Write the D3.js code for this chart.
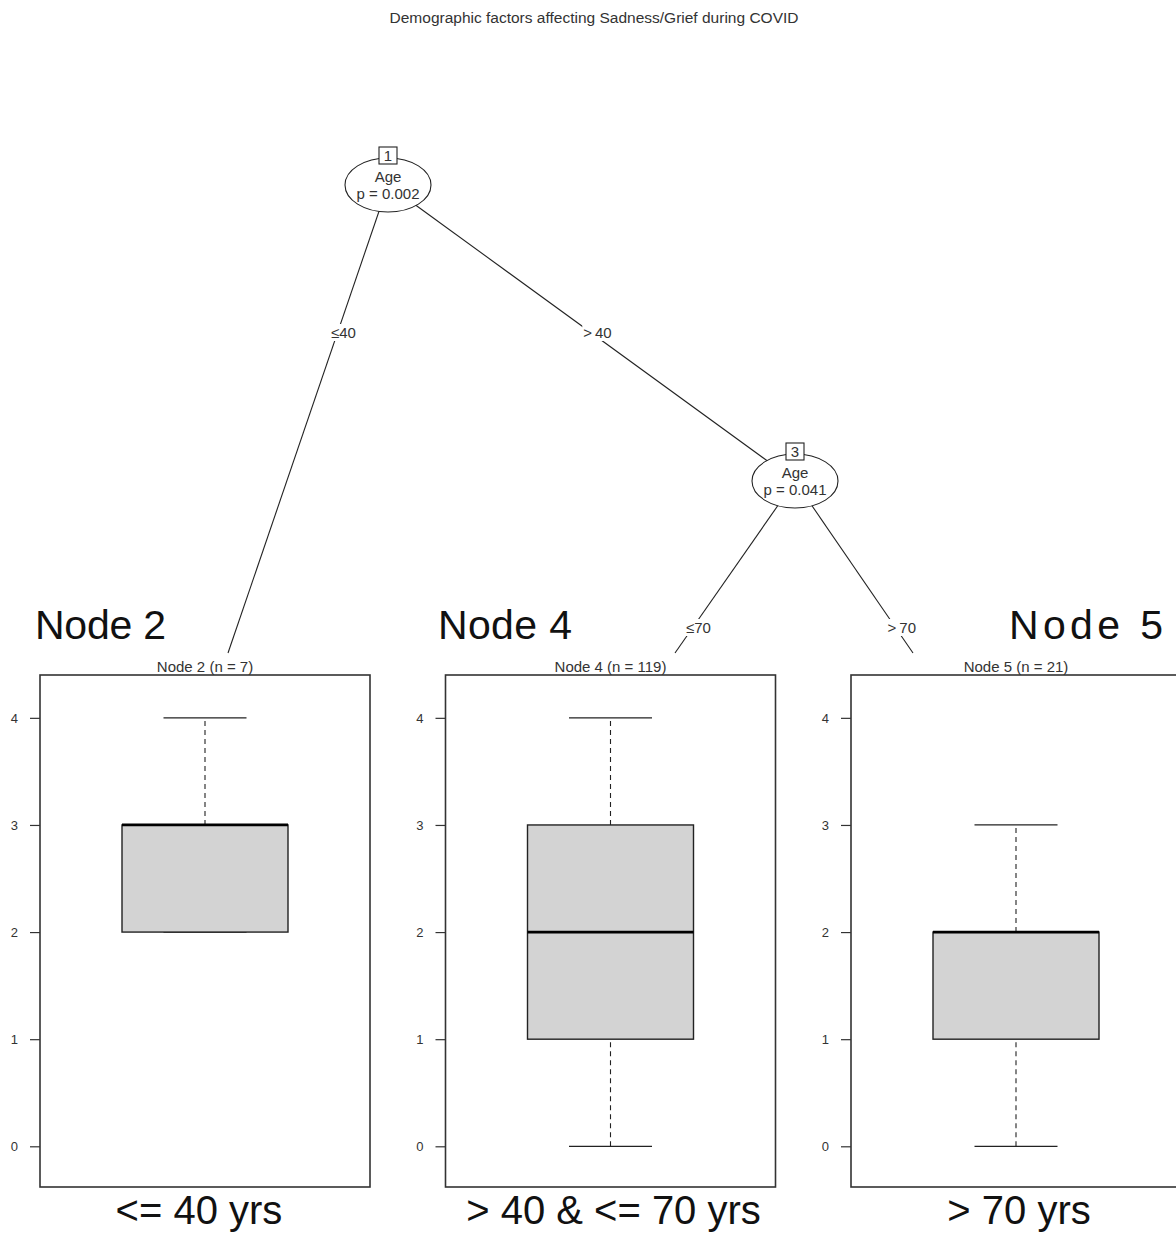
<!DOCTYPE html>
<html>
<head>
<meta charset="utf-8">
<script src="https://cdn.jsdelivr.net/npm/d3@7"></script>
<style>
  body { margin: 0; background: #fff; }
  text { font-family: "Liberation Sans", Arial, sans-serif; }
</style>
</head>
<body>
<svg id="chart" width="1176" height="1234"></svg>
<script>
// data
var title = "Demographic factors affecting Sadness/Grief during COVID";
var nodeNames = ["Node 2", "Node 4", "Node 5"];
var nodeN = [7, 119, 21];
var whiskerLo = [2, 0, 0];
var q1 = [2, 1, 1];
var medians = [3, 2, 2];
var q3 = [3, 3, 2];
var whiskerHi = [4, 4, 3];
var groupLabels = ["<= 40 yrs", "> 40 & <= 70 yrs", "> 70 yrs"];
var yTicks = [0, 1, 2, 3, 4];
var splitIds = [1, 3];
var splitVars = ["Age", "Age"];
var splitP = ["0.002", "0.041"];
var edgeLabels = ["\u226440", ">\u200940", "\u226470", ">\u200970"];

var svg = d3.select("#chart");

// layout
var panelW = 330, boxW = 166;
var xCenter = d3.scaleLinear().domain([0, 2]).range([205, 1016]);
var y = d3.scaleLinear().domain([-0.38, 4.4]).range([1187, 675]);
var FONT = '"Liberation Sans", Arial, sans-serif';

svg.append("text")
    .attr("x", 594).attr("y", 23)
    .attr("text-anchor", "middle")
    .attr("font-size", 15.5)
    .attr("fill", "#333")
    .text(title);

// tree: inner node positions and edge end points
var inner = [[388, 185], [795, 481]];
var edges = [
    {from: 0, to: [228, 653], ly: 333},
    {from: 0, to: inner[1], ly: 333},
    {from: 1, to: [675, 653], ly: 628},
    {from: 1, to: [913, 653], ly: 628}
];

var gEdges = svg.append("g");
edges.forEach(function(e, i){
    var p = inner[e.from];
    gEdges.append("line")
        .attr("x1", p[0]).attr("y1", p[1])
        .attr("x2", e.to[0]).attr("y2", e.to[1])
        .attr("stroke", "#222").attr("stroke-width", 1.1);
    var t = (e.ly - p[1]) / (e.to[1] - p[1]);
    var lx = p[0] + t * (e.to[0] - p[0]) + 6;
    var lbl = gEdges.append("text")
        .attr("x", lx).attr("y", e.ly + 5)
        .attr("text-anchor", "middle")
        .attr("font-size", 15)
        .attr("fill", "#333")
        .text(edgeLabels[i]);
    var bb = lbl.node().getBBox();
    gEdges.insert("rect", function(){ return lbl.node(); })
        .attr("x", bb.x - 1).attr("y", bb.y)
        .attr("width", bb.width + 2).attr("height", bb.height)
        .attr("fill", "#fff");
});

inner.forEach(function(p, i){
    var g = svg.append("g");
    g.append("ellipse")
        .attr("cx", p[0]).attr("cy", p[1])
        .attr("rx", 43).attr("ry", 27)
        .attr("fill", "#fff").attr("stroke", "#222").attr("stroke-width", 1.1);
    g.append("rect")
        .attr("x", p[0] - 9).attr("y", p[1] - 38)
        .attr("width", 18).attr("height", 17)
        .attr("fill", "#fff").attr("stroke", "#222").attr("stroke-width", 1.1);
    g.append("text")
        .attr("x", p[0]).attr("y", p[1] - 24)
        .attr("text-anchor", "middle").attr("font-size", 15).attr("fill", "#333")
        .text(splitIds[i]);
    g.append("text")
        .attr("x", p[0]).attr("y", p[1] - 3)
        .attr("text-anchor", "middle").attr("font-size", 15).attr("fill", "#333")
        .text(splitVars[i]);
    g.append("text")
        .attr("x", p[0]).attr("y", p[1] + 14)
        .attr("text-anchor", "middle").attr("font-size", 15).attr("fill", "#333")
        .text("p = " + splitP[i]);
});

// terminal panels
var labelShift = [-6, 3, 3];
nodeNames.forEach(function(name, i){
    var cx = xCenter(i);
    var x0 = cx - panelW / 2;
    var g = svg.append("g");

    g.append("text")
        .attr("x", cx).attr("y", 672)
        .attr("text-anchor", "middle").attr("font-size", 15).attr("fill", "#333")
        .text(name + " (n = " + nodeN[i] + ")");

    g.append("rect")
        .attr("x", x0).attr("y", y.range()[1])
        .attr("width", panelW).attr("height", y.range()[0] - y.range()[1])
        .attr("fill", "none").attr("stroke", "#333").attr("stroke-width", 1.6);

    var ax = g.append("g").attr("transform", "translate(" + x0 + ",0)")
        .call(d3.axisLeft(y).tickValues(yTicks).tickSize(10).tickPadding(12).tickFormat(d3.format("d")));
    ax.select(".domain").remove();
    ax.selectAll("line").attr("stroke", "#333").attr("stroke-width", 1.2);
    ax.selectAll("text").attr("font-size", 13).attr("fill", "#333")
        .style("font-family", FONT);

    // whiskers
    [[whiskerLo[i], q1[i]], [q3[i], whiskerHi[i]]].forEach(function(w){
        if (w[0] === w[1]) return;
        g.append("line")
            .attr("x1", cx).attr("x2", cx)
            .attr("y1", y(w[0])).attr("y2", y(w[1]))
            .attr("stroke", "#222").attr("stroke-width", 1.1).attr("stroke-dasharray", "5,4");
    });
    [whiskerLo[i], whiskerHi[i]].forEach(function(v){
        g.append("line")
            .attr("x1", cx - boxW / 4).attr("x2", cx + boxW / 4)
            .attr("y1", y(v)).attr("y2", y(v))
            .attr("stroke", "#222").attr("stroke-width", 1.2);
    });
    g.append("rect")
        .attr("x", cx - boxW / 2).attr("y", y(q3[i]))
        .attr("width", boxW).attr("height", y(q1[i]) - y(q3[i]))
        .attr("fill", "#d3d3d3").attr("stroke", "#222").attr("stroke-width", 1.4);
    g.append("line")
        .attr("x1", cx - boxW / 2).attr("x2", cx + boxW / 2)
        .attr("y1", y(medians[i])).attr("y2", y(medians[i]))
        .attr("stroke", "#000").attr("stroke-width", 2.8);

    g.append("text")
        .attr("x", cx + labelShift[i]).attr("y", 1224)
        .attr("text-anchor", "middle").attr("font-size", 40).attr("fill", "#111")
        .text(groupLabels[i]);
});

// big node captions
var bigX = [35, 438, 1009];
var bigW = [131, 134, 154];
nodeNames.forEach(function(name, i){
    svg.append("text")
        .attr("x", bigX[i]).attr("y", 639)
        .attr("font-size", 41).attr("fill", "#111")
        .attr("textLength", bigW[i]).attr("lengthAdjust", "spacing")
        .text(name);
});
</script>
</body>
</html>
